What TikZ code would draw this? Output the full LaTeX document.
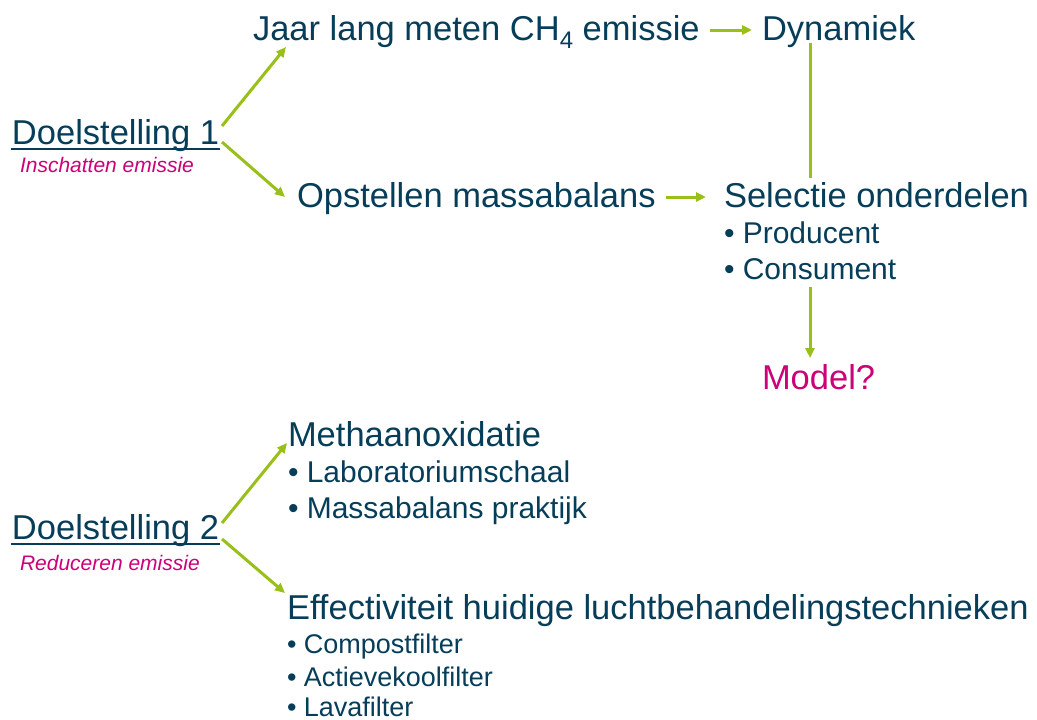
\documentclass[tikz,border=0pt]{standalone}
\usepackage{fontspec}
\setmainfont{Liberation Sans}
\usetikzlibrary{arrows.meta}
\definecolor{darktxt}{RGB}{6,62,90}
\definecolor{leaf}{RGB}{153,192,26}
\definecolor{berry}{RGB}{204,0,119}
\tikzset{
  lbl/.style={inner sep=0pt, outer sep=0pt, anchor=base west, text=darktxt, font=\fontsize{34.5}{40}\selectfont},
  sublbl/.style={lbl, font=\fontsize{30}{36}\selectfont},
  smalllbl/.style={lbl, font=\fontsize{27}{32}\selectfont},
  notelbl/.style={lbl, text=berry, font=\itshape\fontsize{21}{24}\selectfont},
  conn/.style={draw=leaf, line width=3pt, -{Triangle[length=10pt,width=9pt]}},
  plainconn/.style={draw=leaf, line width=3pt},
  uline/.style={draw=darktxt, line width=2pt}
}
\begin{document}
\begin{tikzpicture}[x=1pt,y=-1pt]
\useasboundingbox[fill=white] (0,0) rectangle (1037,720);
% goal 1
\node[lbl] (d1) at (12,144) {Doelstelling 1};
\node[notelbl] (i1) at (20,172) {Inschatten emissie};
\node[lbl] (jaar) at (253,40) {Jaar lang meten CH\raisebox{-8pt}{\fontsize{24}{24}\selectfont 4} emissie};
\node[lbl] (dyn) at (762,40) {Dynamiek};
\node[lbl] (ops) at (297,207) {Opstellen massabalans};
\node[lbl] (sel) at (724,207) {Selectie onderdelen};
\node[sublbl] (prod) at (724,243) {• Producent};
\node[sublbl] (cons) at (724,279) {• Consument};
\node[lbl, text=berry] (model) at (762,389) {Model?};
% goal 2
\node[lbl] (d2) at (12,539) {Doelstelling 2};
\node[notelbl] (r2) at (20,570) {Reduceren emissie};
\node[lbl] (meth) at (288,446) {Methaanoxidatie};
\node[sublbl] (lab) at (288,482) {• Laboratoriumschaal};
\node[sublbl] (mass) at (288,518) {• Massabalans praktijk};
\node[lbl] (eff) at (287,619) {Effectiviteit huidige luchtbehandelingstechnieken};
\node[smalllbl] (comp) at (287,653) {• Compostfilter};
\node[smalllbl] (act) at (287,686) {• Actievekoolfilter};
\node[smalllbl] (lava) at (287,716.5) {• Lavafilter};
% underlines
\draw[uline] ([shift={(-1,4.5)}]d1.base west) -- ([shift={(1,4.5)}]d1.base east);
\draw[uline] ([shift={(-1,5)}]d2.base west) -- ([shift={(1,5)}]d2.base east);
% connectors
\draw[conn] ([shift={(210,-18)}]d1.base west) -- ([shift={(33,7)}]jaar.base west);
\draw[conn] ([shift={(210,-2)}]d1.base west) -- ([shift={(-12,-10)}]ops.base west);
\draw[conn] ([shift={(10,-10)}]jaar.base east) -- ([shift={(-10,-10)}]dyn.base west);
\draw[conn] ([shift={(10,-10)}]ops.base east) -- ([shift={(-18,-10)}]sel.base west);
\draw[plainconn] ([shift={(48,3)}]dyn.base west) -- ([shift={(86,-29)}]sel.base west);
\draw[conn] ([shift={(86,8)}]cons.base west) -- ([shift={(48,-31)}]model.base west);
\draw[conn] ([shift={(210,-16)}]d2.base west) -- ([shift={(-1,-3)}]meth.base west);
\draw[conn] ([shift={(210,0)}]d2.base west) -- ([shift={(-2,-26)}]eff.base west);
\end{tikzpicture}
\end{document}
